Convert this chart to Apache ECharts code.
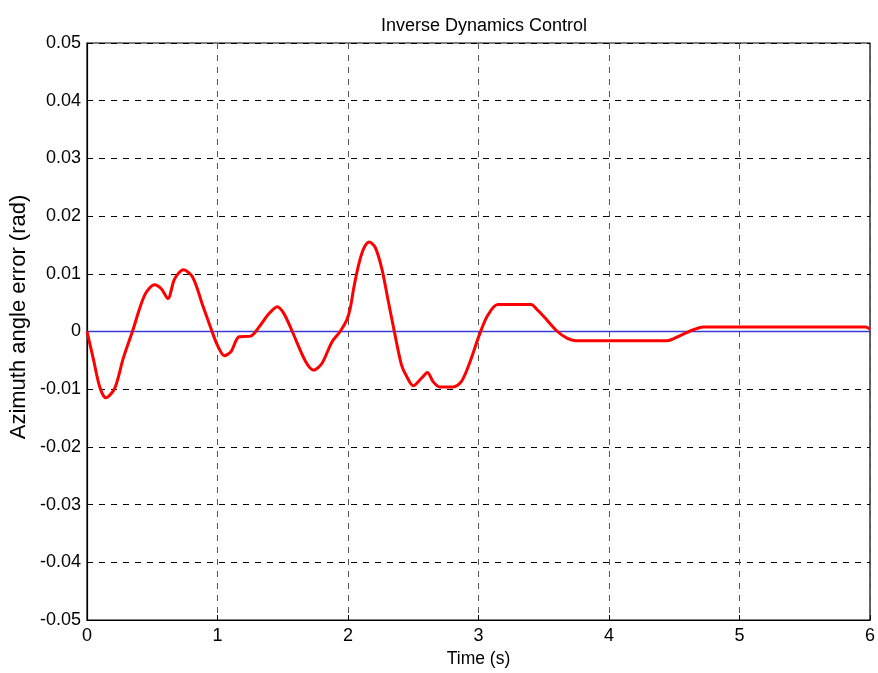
<!DOCTYPE html>
<html>
<head>
<meta charset="utf-8">
<script src="https://cdn.jsdelivr.net/npm/echarts@6/dist/echarts.min.js"></script>
<style>
  html, body { margin: 0; padding: 0; background: #fff; }
  #chart { width: 878px; height: 673px; }
</style>
</head>
<body>
<div id="chart"></div>
<script>
// time samples (s)
const time = [0, 0.048, 0.1, 0.145, 0.213, 0.277, 0.348, 0.442, 0.518, 0.569, 0.62, 0.671, 0.739, 0.81,
  0.887, 0.958, 1.0, 1.052, 1.103, 1.166, 1.255, 1.319, 1.395, 1.458, 1.509, 1.573, 1.675, 1.738,
  1.801, 1.877, 1.94, 1.991, 2.017, 2.043, 2.08, 2.119, 2.162, 2.208, 2.259, 2.31, 2.355, 2.41,
  2.45, 2.5, 2.563, 2.609, 2.652, 2.703, 2.805, 2.868, 2.931, 3.008, 3.071, 3.148, 3.402, 3.453,
  3.504, 3.605, 3.681, 3.745, 4.444, 4.545, 4.647, 4.723, 5.968, 6.0];
// azimuth angle error (rad)
const error = [0, -0.0047, -0.0098, -0.0115, -0.0098, -0.0047, 0, 0.0063, 0.0081, 0.0074, 0.0057, 0.0091,
  0.0107, 0.0094, 0.0045, 0, -0.0024, -0.0042, -0.0035, -0.0009, -0.0008, 0.0008, 0.0031, 0.0043,
  0.0031, 0, -0.0052, -0.0067, -0.0055, -0.0018, 0, 0.002, 0.004, 0.0074, 0.0114, 0.0143, 0.0155,
  0.0146, 0.0109, 0.0051, 0, -0.0058, -0.0078, -0.0094, -0.0081, -0.0071, -0.0087, -0.0096,
  -0.0096, -0.0087, -0.0055, -0.0005, 0.0028, 0.0047, 0.0047, 0.0037, 0.0025, 0, -0.0012, -0.0016,
  -0.0016, -0.0007, 0.0003, 0.0008, 0.0008, 0.0004];
// reference (zero) line
const refTime = [0, 6];
const refValue = [0, 0];

const chart = echarts.init(document.getElementById('chart'));
const font = 'Liberation Sans, Arial, Helvetica, sans-serif';

chart.setOption({
  backgroundColor: '#fff',
  animation: false,
  title: {
    text: 'Inverse Dynamics Control',
    left: 479, top: 12, textAlign: 'center',
    textStyle: { fontFamily: font, fontSize: 18, fontWeight: 'normal', color: '#000' }
  },
  grid: {
    left: 87, right: 3, top: 43, bottom: 50,
    show: true, borderColor: '#000', borderWidth: 1.2, backgroundColor: 'transparent'
  },
  // y axis title placed a bit above the axis centre, as in the original
  graphic: [{
    type: 'text', x: 19, y: 317, rotation: Math.PI / 2,
    style: {
      text: 'Azimuth angle error (rad)', fill: '#000',
      font: '22px ' + font, textAlign: 'center', textVerticalAlign: 'middle'
    }
  }],
  xAxis: {
    type: 'value', min: 0, max: 6, interval: 1,
    name: 'Time (s)', nameLocation: 'middle', nameGap: 30,
    nameTextStyle: { fontFamily: font, fontSize: 17.5, color: '#000' },
    axisLine: { show: true, onZero: false, lineStyle: { color: '#000', width: 1.2 } },
    axisTick: { show: true, inside: true, length: 5, lineStyle: { color: '#000' } },
    axisLabel: { fontFamily: font, fontSize: 18, color: '#000', margin: 7 },
    splitLine: { show: true, lineStyle: { color: '#555', type: [6, 6], width: 1 } }
  },
  yAxis: {
    type: 'value', min: -0.05, max: 0.05, interval: 0.01,
    axisLine: { show: true, lineStyle: { color: '#000', width: 1.2 } },
    axisTick: { show: true, inside: true, length: 5, lineStyle: { color: '#000' } },
    axisLabel: {
      fontFamily: font, fontSize: 18, color: '#000', margin: 6,
      formatter: v => (Math.abs(v) < 1e-9 ? '0' : String(+v.toFixed(2)))
    },
    splitLine: { show: true, lineStyle: { color: '#000', type: [6, 6], width: 1 } }
  },
  series: [
    {
      type: 'line', symbol: 'none', z: 2,
      data: refTime.map((t, i) => [t, refValue[i]]),
      lineStyle: { color: '#3a3ad8', width: 1.5 }
    },
    {
      type: 'line', symbol: 'none', smooth: 0.3, z: 3,
      data: time.map((t, i) => [t, error[i]]),
      lineStyle: { color: '#ff0000', width: 3 }
    }
  ]
});
</script>
</body>
</html>
